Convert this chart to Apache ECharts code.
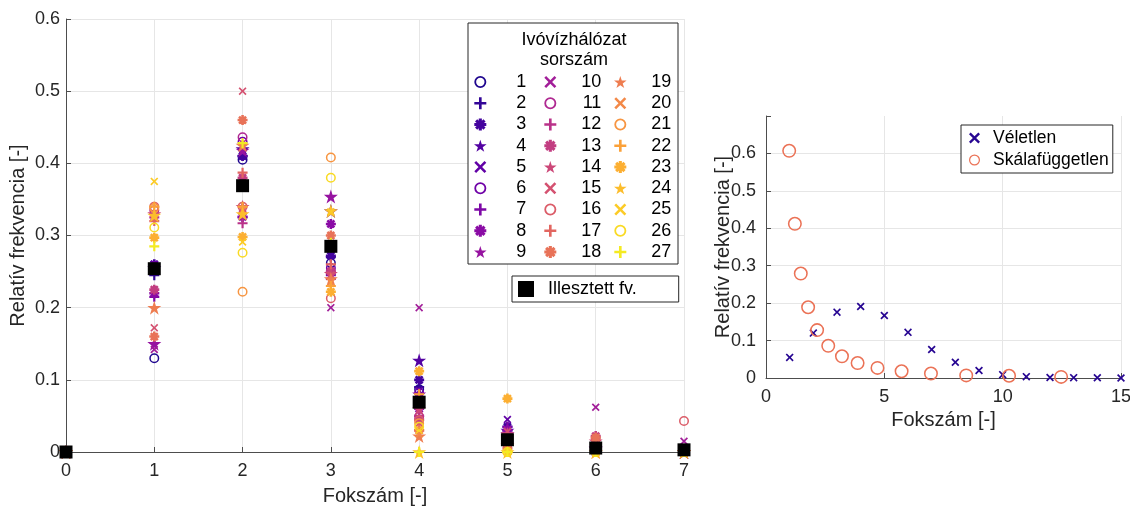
<!DOCTYPE html>
<html>
<head>
<meta charset="utf-8">
<script src="https://cdn.jsdelivr.net/npm/echarts@6/dist/echarts.min.js"></script>
<style>
html, body { margin: 0; background: #fff; }
#chart { width: 1130px; height: 508px; }
</style>
</head>
<body>
<div id="chart"></div>
<script>
// fokszám (x) and relative frequency for networks 1..27, one array per degree
const fokszam = [0, 1, 2, 3, 4, 5, 6, 7];
const deg0 = [0,0,0,0,0,0,0,0,0,0,0,0,0,0,0,0,0,0,0,0,0,0,0,0,0,0,0];
const deg1 = [0.130,0.245,0.260,0.255,0.260,0.258,0.215,0.220,0.150,0.142,0.335,0.325,0.225,0.330,0.172,0.340,0.320,0.160,0.200,0.330,0.338,0.340,0.297,0.328,0.375,0.311,0.285];
const deg2 = [0.405,0.410,0.410,0.420,0.330,0.430,0.325,0.326,0.418,0.335,0.436,0.317,0.380,0.340,0.500,0.340,0.387,0.460,0.425,0.335,0.222,0.340,0.298,0.330,0.291,0.276,0.428];
const deg3 = [0.262,0.270,0.272,0.334,0.250,0.255,0.245,0.316,0.354,0.200,0.250,0.240,0.250,0.247,0.245,0.213,0.260,0.300,0.240,0.235,0.408,0.230,0.222,0.334,0.333,0.380,0.290];
const deg4 = [0.087,0.090,0.100,0.127,0.085,0.082,0.075,0.060,0.080,0.200,0.049,0.050,0.045,0.060,0.040,0.044,0.030,0.030,0.022,0.025,0.040,0.080,0.112,0.000,0.030,0.035,0.000];
const deg5 = [0.020,0.030,0.035,0.030,0.045,0.020,0.035,0.030,0.025,0.030,0.020,0.015,0.010,0.025,0.028,0.010,0.010,0.005,0.010,0.005,0.000,0.000,0.074,0.000,0.000,0.000,0.000];
const deg6 = [0.005,0.008,0.010,0.005,0.010,0.005,0.008,0.010,0.005,0.062,0.010,0.005,0.022,0.015,0.008,0.018,0.005,0.020,0.000,0.000,0.000,0.000,0.000,0.000,0.000,0.000,0.000];
const deg7 = [0.000,0.000,0.000,0.000,0.003,0.000,0.000,0.000,0.000,0.015,0.000,0.000,0.003,0.000,0.003,0.043,0.000,0.000,0.000,0.000,0.000,0.000,0.000,0.000,0.000,0.000,0.000];
// fitted curve
const illesztett = [0, 0.254, 0.369, 0.285, 0.069, 0.017, 0.0055, 0.003];

// right panel
const veletlenX = [1, 2, 3, 4, 5, 6, 7, 8, 9, 10, 11, 12, 13, 14, 15];
const veletlenY = [0.055, 0.120, 0.176, 0.191, 0.167, 0.122, 0.076, 0.042, 0.020, 0.009, 0.0036, 0.0015, 0.001, 0.0005, 0.0002];
const skalaX = [0.98, 1.22, 1.47, 1.78, 2.16, 2.63, 3.21, 3.87, 4.71, 5.73, 6.97, 8.46, 10.27, 12.47];
const skalaY = [0.607, 0.412, 0.279, 0.189, 0.128, 0.086, 0.058, 0.040, 0.027, 0.018, 0.012, 0.007, 0.006, 0.003];

const degrees = [deg0, deg1, deg2, deg3, deg4, deg5, deg6, deg7];

const FONT = 'Liberation Sans';
const AXIS = '#4d4d4d';
const TXT = '#262626';
const GRID = '#e6e6e6';

// matlab-like marker shapes
const SYM = {
    circle: 'path://M0,10A10,10,0,1,1,20,10A10,10,0,1,1,0,10ZM3,10A7,7,0,1,0,17,10A7,7,0,1,0,3,10Z',
    ring: 'path://M0,10A10,10,0,1,1,20,10A10,10,0,1,1,0,10ZM2.2,10A7.8,7.8,0,1,0,17.8,10A7.8,7.8,0,1,0,2.2,10Z',
    plus: 'path://M3.9,0H6.1V3.9H10V6.1H6.1V10H3.9V6.1H0V3.9H3.9Z',
    star: 'path://M5,0L6.12,3.45L9.76,3.45L6.82,5.59L7.94,9.05L5,6.91L2.06,9.05L3.18,5.59L0.24,3.45L3.88,3.45Z',
    cross: 'path://M0,1.5L1.5,0L5,3.5L8.5,0L10,1.5L6.5,5L10,8.5L8.5,10L5,6.5L1.5,10L0,8.5L3.5,5Z',
    asterisk: 'path://M3.7,0H6.3V3.7H10V6.3H6.3V10H3.7V6.3H0V3.7H3.7ZM0.6,2.4L2.4,0.6L5,3.2L7.6,0.6L9.4,2.4L6.8,5L9.4,7.6L7.6,9.4L5,6.8L2.4,9.4L0.6,7.6L3.2,5Z'
};
const markerOrder = ['circle', 'plus', 'asterisk', 'star', 'cross'];
const markerSize = { circle: 10, plus: 10, asterisk: 10, star: 14, cross: 8 };

// plasma colormap
const plasma = ['#0d0887', '#41049d', '#6a00a8', '#8f0da4', '#b12a90', '#cc4778', '#e16462', '#f2844b', '#fca636', '#fcce25', '#f0f921'];
function plasmaAt(t) {
    let p = t * 10, i = Math.min(9, Math.floor(p)), f = p - i;
    let a = plasma[i], b = plasma[i + 1];
    let c = [1, 3, 5].map(k => Math.round(parseInt(a.substr(k, 2), 16) * (1 - f) + parseInt(b.substr(k, 2), 16) * f));
    return 'rgb(' + c.join(',') + ')';
}

let series = [];
let names = [];
for (let i = 0; i < 27; i++) {
    let m = markerOrder[i % 5];
    names.push(String(i + 1));
    series.push({
        name: String(i + 1),
        type: 'scatter',
        xAxisIndex: 0,
        yAxisIndex: 0,
        symbol: SYM[m],
        symbolSize: markerSize[m],
        itemStyle: { color: plasmaAt((i + 1) / 28), opacity: 1 },
        data: fokszam.map((x, k) => [x, degrees[k][i]])
    });
}
series.push({
    name: 'Illesztett fv.',
    type: 'scatter',
    xAxisIndex: 0,
    yAxisIndex: 0,
    symbol: 'rect',
    symbolSize: 13,
    itemStyle: { color: '#000', opacity: 1 },
    data: fokszam.map((x, k) => [x, illesztett[k]])
});
series.push({
    name: 'Véletlen',
    type: 'scatter',
    xAxisIndex: 1,
    yAxisIndex: 1,
    symbol: SYM.cross,
    symbolSize: 8,
    itemStyle: { color: plasmaAt(0.05), opacity: 1 },
    data: veletlenX.map((x, k) => [x, veletlenY[k]])
});
series.push({
    name: 'Skálafüggetlen',
    type: 'scatter',
    xAxisIndex: 1,
    yAxisIndex: 1,
    symbol: SYM.ring,
    symbolSize: 14,
    itemStyle: { color: '#eb7256', opacity: 1 },
    data: skalaX.map((x, k) => [x, skalaY[k]])
});

function valueAxis(grid, min, max, interval, name, nameGap, margin, fmt, showMax) {
    return {
        gridIndex: grid,
        type: 'value',
        min: min, max: max, interval: interval,
        name: name,
        nameLocation: 'middle',
        nameGap: nameGap,
        nameMoveOverlap: false,
        nameTextStyle: { fontFamily: FONT, fontSize: 20, color: TXT },
        axisLine: { show: true, onZero: false, lineStyle: { color: AXIS, width: 1 } },
        axisTick: { show: true, inside: true, length: 5, lineStyle: { color: AXIS } },
        axisLabel: { fontFamily: FONT, fontSize: 18, color: TXT, margin: margin, formatter: fmt },
        splitLine: { show: true, showMaxLine: showMax !== false, lineStyle: { color: GRID, width: 1 } }
    };
}

function colLegend(left, from, width) {
    return {
        data: names.slice(from, from + 9),
        orient: 'vertical',
        left: left,
        top: 73,
        itemWidth: 14,
        itemHeight: 12,
        itemGap: 3.25,
        selectedMode: false,
        padding: 0,
        z: 10,
        formatter: n => '{n|' + n + '}',
        textStyle: {
            fontFamily: FONT, fontSize: 18, color: '#000',
            rich: { n: { width: width, align: 'right', fontFamily: FONT, fontSize: 18, color: '#000' } }
        }
    };
}

let chart = echarts.init(document.getElementById('chart'));
chart.setOption({
    animation: false,
    backgroundColor: '#fff',
    grid: [
        { left: 66, right: 446, top: 19, bottom: 56, outerBoundsMode: 'none' },
        { left: 766, right: 9, top: 116, bottom: 130, outerBoundsMode: 'none' }
    ],
    xAxis: [
        valueAxis(0, 0, 7, 1, 'Fokszám [-]', 34, 10),
        valueAxis(1, 0, 15, 5, 'Fokszám [-]', 32, 10)
    ],
    yAxis: [
        valueAxis(0, 0, 0.6, 0.1, 'Relatív frekvencia [-]', 38, 6),
        valueAxis(1, 0, 0.7, 0.1, 'Relatív frekvencia [-]', 33, 10, v => v > 0.65 ? '' : String(+v.toFixed(1)), false)
    ],
    legend: [
        colLegend(474, 0, 34),
        colLegend(544, 9, 39),
        colLegend(614, 18, 39),
        {
            data: ['Illesztett fv.'],
            left: 512, top: 276,
            padding: [4, 42, 4, 6],
            itemWidth: 16, itemHeight: 16,
            backgroundColor: '#fff',
            borderColor: '#262626', borderWidth: 1, borderRadius: 0,
            selectedMode: false,
            formatter: n => '{t|' + n + '}',
            textStyle: { fontFamily: FONT, fontSize: 18, color: '#000',
                rich: { t: { padding: [0, 0, 0, 9], fontFamily: FONT, fontSize: 18, color: '#000' } } }
        },
        {
            data: ['Véletlen', 'Skálafüggetlen'],
            orient: 'vertical',
            left: 961, top: 125,
            padding: [4, 4, 4, 8],
            itemWidth: 11, itemHeight: 11, itemGap: 4,
            backgroundColor: '#fff',
            borderColor: '#262626', borderWidth: 1, borderRadius: 0,
            selectedMode: false,
            formatter: n => '{t|' + n + '}',
            textStyle: { fontFamily: FONT, fontSize: 18, color: '#000',
                rich: { t: { padding: [0, 0, 0, 8], fontFamily: FONT, fontSize: 17.5, color: '#000' } } }
        }
    ],
    graphic: [
        {
            type: 'rect', z: 5,
            shape: { x: 468, y: 23, width: 210, height: 241 },
            style: { fill: '#fff', stroke: '#262626', lineWidth: 1 }
        },
        {
            type: 'text', z: 6,
            x: 574, y: 30,
            style: { text: 'Ivóvízhálózat\nsorszám', align: 'center', fontFamily: FONT, fontSize: 18, lineHeight: 20, fill: '#000' }
        }
    ],
    series: series
});
</script>
</body>
</html>
